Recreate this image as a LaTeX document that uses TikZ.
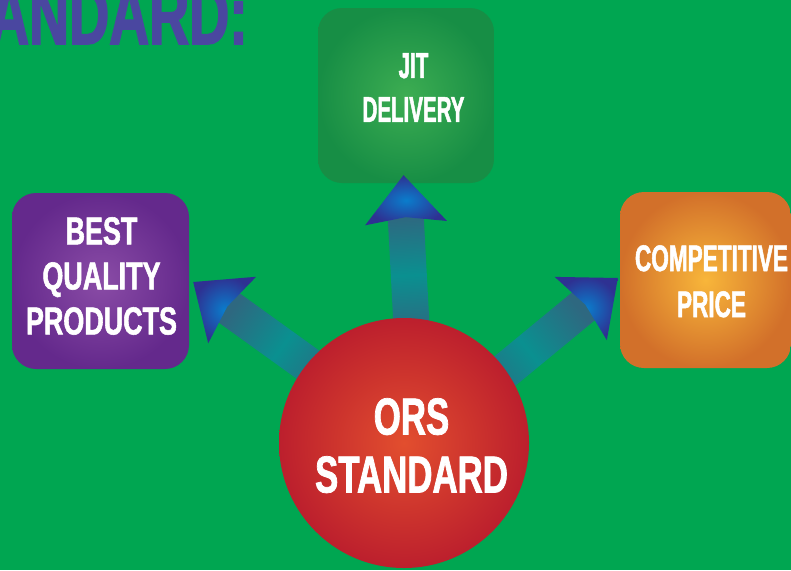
\documentclass[tikz,border=0pt]{standalone}
\usepackage{fontspec}
\setmainfont{Liberation Sans}
\newfontfamily\ftitle{Liberation Sans}[FakeStretch=0.66,FakeBold=1.8]
\newfontfamily\fpurple{Liberation Sans}[FakeStretch=0.69,FakeBold=1.4]
\newfontfamily\fjit{Liberation Sans}[FakeStretch=0.57,FakeBold=1.4]
\newfontfamily\forange{Liberation Sans}[FakeStretch=0.61,FakeBold=1.4]
\newfontfamily\fcircle{Liberation Sans}[FakeStretch=0.67,FakeBold=1.4]
\usetikzlibrary{calc}
\definecolor{bg}{HTML}{00A651}
\definecolor{titlec}{HTML}{4A47A0}
\definecolor{jitin}{HTML}{3DAD52}
\definecolor{jitout}{HTML}{178E45}
\definecolor{purin}{HTML}{8A4CA6}
\definecolor{purout}{HTML}{64298C}
\definecolor{orgin}{HTML}{F8B63A}
\definecolor{orgout}{HTML}{D2702A}
\definecolor{redin}{HTML}{E24E2E}
\definecolor{redout}{HTML}{BC1F2D}
\definecolor{shaftmid}{HTML}{0A9090}
\definecolor{shaftend}{HTML}{2E6880}
\definecolor{headin}{HTML}{0A7DCC}
\definecolor{headout}{HTML}{2E3192}
\tikzset{
  box/.style={rounded corners=24pt, inner sep=0pt},
  boxtext/.style={text=white, align=center, inner sep=0pt, anchor=north},
  shaftsh/.style={top color=shaftend, bottom color=shaftend, middle color=shaftmid},
  headsh/.style={inner color=headin, outer color=headout},
}
\newcommand{\fatarrow}[4]{% tip, base, name, shading angle
  \coordinate (#3M) at ($(#1)!48pt!(#2)$);
  \coordinate (#3N) at ($(#1)!42pt!(#2)$);
  \coordinate (#3S) at ($(#1)!40pt!(#2)$);
  \shade[shaftsh, shading angle=#4] ($(#2)!18pt!90:(#1)$) -- ($(#3S)!18pt!90:(#1)$)
     -- ($(#3S)!18pt!-90:(#1)$) -- ($(#2)!18pt!-90:(#1)$) -- cycle;
  \shade[headsh] ($(#3M)!41pt!90:(#1)$) -- (#1) -- ($(#3M)!41pt!-90:(#1)$) -- (#3N) -- cycle;
}
\begin{document}
\begin{tikzpicture}[x=1pt,y=-1pt]
\useasboundingbox (0,0) rectangle (791,570);
\clip (0,0) rectangle (791,570);
\fill[bg] (0,0) rectangle (791,570);
\node[text=titlec, anchor=base east, inner sep=0pt, font={\ftitle\bfseries\fontsize{84}{84}\selectfont}] (title) at (248,44) {ANDARD:};
% boxes
\node[box, minimum width=176pt, minimum height=175pt, inner color=jitin, outer color=jitout] (jit) at (406,95.5) {};
\node[box, minimum width=177pt, minimum height=176pt, inner color=purin, outer color=purout] (best) at (100.5,281) {};
\node[box, minimum width=171pt, minimum height=176pt, inner color=orgin, outer color=orgout] (comp) at (705.5,280) {};
% box texts
\node[boxtext, font={\fjit\bfseries\fontsize{36}{44}\selectfont}] (jitlabel) at (413.5,53) {JIT\\DELIVERY};
\node[boxtext, font={\fpurple\bfseries\fontsize{39}{45}\selectfont}] (bestlabel) at (101.5,217) {BEST\\QUALITY\\PRODUCTS};
\node[boxtext, font={\forange\bfseries\fontsize{37}{46}\selectfont}] (complabel) at (711.5,245) {COMPETITIVE\\PRICE};
% arrows
\coordinate (c) at (404,443);
\coordinate (upT) at ($(jit.south)+(-2.5,-8)$);
\coordinate (upB) at ($(c)+(8,-108)$);
\coordinate (lfT) at ($(best.east)+(4,1)$);
\coordinate (lfB) at ($(c)+(-65,-56)$);
\coordinate (rtT) at ($(comp.west)+(-2,-2)$);
\coordinate (rtB) at ($(c)+(67,-44)$);
\fatarrow{upT}{upB}{up}{3}
\fatarrow{lfT}{lfB}{lf}{54}
\fatarrow{rtT}{rtB}{rt}{-51}
% centre circle
\node[circle, minimum size=250pt, inner sep=0pt, inner color=redin, outer color=redout] (ors) at (c) {};
\node[boxtext, font={\fcircle\bfseries\fontsize{52}{58}\selectfont}] (orslabel) at (411.5,398) {ORS\\STANDARD};
\end{tikzpicture}
\end{document}
